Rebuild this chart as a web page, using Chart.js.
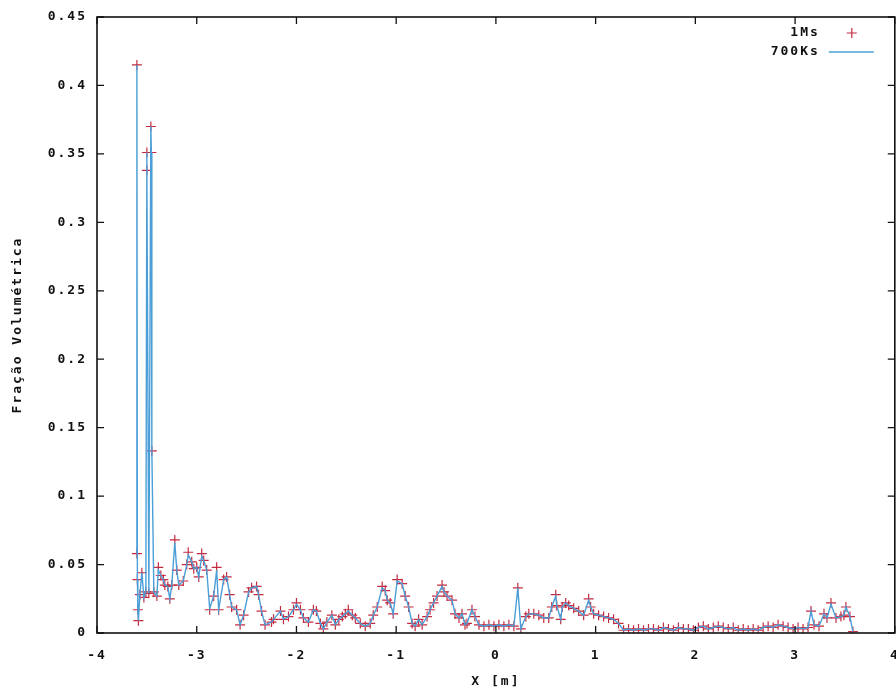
<!DOCTYPE html>
<html>
<head>
<meta charset="utf-8">
<script src="https://cdn.jsdelivr.net/npm/chart.js@4.4.1/dist/chart.umd.min.js"></script>
<style>
html,body{margin:0;padding:0;background:#fff;overflow:hidden;}
#wrap{width:896px;height:693px;overflow:hidden;}
</style>
</head>
<body>
<div id="wrap"><canvas id="c" width="901" height="693"></canvas></div>
<script>
const seriesNames = ['1Ms', '700Ks'];
const xTickLabels = ['-4', '-3', '-2', '-1', '0', '1', '2', '3', '4'];
const yTickLabels = ['0', '0.05', '0.1', '0.15', '0.2', '0.25', '0.3', '0.35', '0.4', '0.45'];

const xPos = [
 -3.60,-3.60,-3.595,-3.59,-3.585,-3.57,-3.55,-3.53,-3.51,-3.50,-3.50,-3.48,-3.46,-3.455,-3.45,-3.43,-3.40,-3.385,-3.36,-3.335,
 -3.32,-3.29,-3.27,-3.25,-3.22,-3.20,-3.18,-3.135,-3.10,-3.085,-3.05,-3.03,-3.00,-2.98,-2.95,-2.93,-2.90,-2.87,-2.83,-2.80,
 -2.78,-2.73,-2.70,-2.67,-2.65,-2.60,-2.565,-2.53,-2.48,-2.45,-2.40,-2.38,-2.35,-2.315,-2.25,-2.23,-2.16,-2.13,-2.08,-2.03,
 -2.00,-1.96,-1.93,-1.88,-1.83,-1.80,-1.76,-1.73,-1.695,-1.645,-1.61,-1.575,-1.54,-1.51,-1.48,-1.44,-1.41,-1.36,-1.31,-1.26,
 -1.23,-1.19,-1.14,-1.11,-1.09,-1.06,-1.03,-0.99,-0.94,-0.91,-0.875,-0.84,-0.81,-0.775,-0.74,-0.69,-0.66,-0.625,-0.59,-0.54,
 -0.52,-0.49,-0.44,-0.41,-0.37,-0.34,-0.31,-0.29,-0.24,-0.21,-0.17,-0.12,-0.07,-0.02,0.03,0.08,0.13,0.18,0.22,0.25,
 0.30,0.33,0.38,0.43,0.48,0.53,0.56,0.60,0.61,0.65,0.665,0.70,0.73,0.78,0.83,0.88,0.93,0.95,0.98,1.03,
 1.08,1.13,1.18,1.23,1.28,1.33,1.38,1.43,1.48,1.53,1.58,1.63,1.68,1.73,1.78,1.83,1.88,1.93,1.98,2.03,
 2.08,2.13,2.18,2.23,2.28,2.33,2.38,2.43,2.48,2.53,2.58,2.63,2.68,2.73,2.78,2.83,2.88,2.93,2.98,3.03,
 3.08,3.13,3.16,3.19,3.24,3.29,3.32,3.36,3.41,3.46,3.49,3.51,3.55,3.58
];

const ms1 = [
 0.058,0.415,0.039,0.017,0.009,0.028,0.044,0.026,0.030,0.351,0.338,0.029,0.370,0.351,0.133,0.030,0.027,0.048,0.042,0.039,
 0.035,0.034,0.025,0.035,0.068,0.046,0.035,0.038,0.050,0.059,0.052,0.047,0.048,0.041,0.058,0.053,0.046,0.017,0.027,0.048,
 0.017,0.039,0.041,0.028,0.019,0.017,0.006,0.013,0.030,0.033,0.034,0.028,0.016,0.006,0.008,0.010,0.016,0.010,0.012,0.017,
 0.022,0.017,0.011,0.008,0.017,0.016,0.007,0.003,0.008,0.013,0.006,0.010,0.012,0.014,0.017,0.013,0.011,0.007,0.005,0.007,
 0.013,0.019,0.034,0.031,0.024,0.022,0.014,0.039,0.036,0.027,0.019,0.007,0.005,0.010,0.006,0.012,0.017,0.022,0.027,0.035,
 0.030,0.027,0.024,0.014,0.011,0.014,0.006,0.007,0.017,0.012,0.006,0.005,0.006,0.005,0.006,0.005,0.006,0.005,0.033,0.003,
 0.012,0.014,0.014,0.013,0.011,0.011,0.019,0.028,0.020,0.010,0.019,0.022,0.020,0.018,0.016,0.013,0.025,0.019,0.014,0.013,
 0.012,0.011,0.010,0.007,0.002,0.003,0.002,0.003,0.002,0.003,0.003,0.002,0.004,0.003,0.002,0.004,0.003,0.003,0.002,0.004,
 0.005,0.003,0.004,0.005,0.004,0.003,0.004,0.002,0.003,0.002,0.003,0.002,0.004,0.005,0.004,0.006,0.005,0.004,0.003,0.004,
 0.003,0.004,0.016,0.006,0.005,0.014,0.011,0.022,0.011,0.012,0.013,0.019,0.012,0.001
];

const ks700 = [
 0.058,0.415,0.039,0.017,0.009,0.028,0.044,0.026,0.030,0.351,0.338,0.029,0.370,0.351,0.133,0.030,0.027,0.046,0.042,0.039,
 0.035,0.034,0.025,0.035,0.066,0.046,0.035,0.038,0.050,0.057,0.052,0.047,0.048,0.041,0.056,0.053,0.046,0.018,0.027,0.046,
 0.017,0.039,0.041,0.028,0.019,0.017,0.006,0.013,0.030,0.033,0.034,0.028,0.016,0.006,0.008,0.010,0.016,0.010,0.012,0.017,
 0.021,0.017,0.011,0.008,0.017,0.016,0.007,0.003,0.008,0.013,0.006,0.010,0.012,0.014,0.016,0.013,0.011,0.007,0.005,0.007,
 0.013,0.019,0.033,0.031,0.024,0.022,0.014,0.038,0.036,0.027,0.019,0.007,0.005,0.010,0.006,0.012,0.017,0.022,0.027,0.034,
 0.030,0.027,0.024,0.014,0.011,0.014,0.006,0.007,0.017,0.012,0.006,0.005,0.006,0.005,0.006,0.005,0.006,0.005,0.033,0.003,
 0.012,0.014,0.014,0.013,0.011,0.011,0.019,0.027,0.020,0.010,0.019,0.022,0.020,0.018,0.016,0.013,0.024,0.019,0.014,0.013,
 0.012,0.011,0.010,0.007,0.002,0.003,0.002,0.003,0.002,0.003,0.003,0.002,0.004,0.003,0.002,0.004,0.003,0.003,0.002,0.004,
 0.005,0.003,0.004,0.005,0.004,0.003,0.004,0.002,0.003,0.002,0.003,0.002,0.004,0.005,0.004,0.006,0.005,0.004,0.003,0.004,
 0.003,0.004,0.016,0.006,0.005,0.014,0.011,0.021,0.011,0.012,0.013,0.019,0.012,0.001
];

const FONT = '"DejaVu Sans Mono", "Liberation Mono", monospace';
const RED = '#c42a40';
const BLUE = '#4a9fd8';
const INK = '#111111';
const LS = '2px';

const spacing = {
  id: 'spacing',
  beforeDraw(chart) { chart.ctx.letterSpacing = LS; }
};

const frame = {
  id: 'frame',
  afterDatasetsDraw(chart) {
    const {ctx, chartArea: a, scales} = chart;
    ctx.save();
    ctx.strokeStyle = INK;
    ctx.lineWidth = 1.6;
    ctx.strokeRect(a.left, a.top, a.right - a.left, a.bottom - a.top);
    const L = 7;
    ctx.lineWidth = 1.3;
    ctx.beginPath();
    scales.x.ticks.forEach(t => {
      const px = scales.x.getPixelForValue(t.value);
      ctx.moveTo(px, a.bottom); ctx.lineTo(px, a.bottom - L);
      ctx.moveTo(px, a.top); ctx.lineTo(px, a.top + L);
    });
    scales.y.ticks.forEach(t => {
      const py = scales.y.getPixelForValue(t.value);
      ctx.moveTo(a.left, py); ctx.lineTo(a.left + L, py);
      ctx.moveTo(a.right, py); ctx.lineTo(a.right - L, py);
    });
    ctx.stroke();
    ctx.restore();
  },
  afterDraw(chart) {
    const {ctx, chartArea: a} = chart;
    const ds = chart.data.datasets;
    ctx.save();
    ctx.letterSpacing = LS;
    ctx.font = 'bold 13px ' + FONT;
    ctx.fillStyle = INK;
    ctx.textAlign = 'right';
    ctx.textBaseline = 'middle';
    const tx = a.right - 77, y1 = a.top + 16, y2 = a.top + 35;
    ctx.fillText(ds[1].label, tx + 2, y1);
    ctx.fillText(ds[0].label, tx + 2, y2);
    ctx.strokeStyle = RED; ctx.lineWidth = 1.2;
    ctx.beginPath();
    const cx = a.right - 43;
    ctx.moveTo(cx - 5, y1); ctx.lineTo(cx + 5, y1);
    ctx.moveTo(cx, y1 - 5); ctx.lineTo(cx, y1 + 5);
    ctx.stroke();
    ctx.strokeStyle = BLUE; ctx.lineWidth = 1.5;
    ctx.beginPath();
    ctx.moveTo(a.right - 66, y2); ctx.lineTo(a.right - 21, y2);
    ctx.stroke();
    ctx.restore();
  }
};

const tickFont = { family: FONT, size: 13, weight: 'bold' };

new Chart(document.getElementById('c'), {
  type: 'scatter',
  data: {
    datasets: [
      {
        label: seriesNames[1],
        data: xPos.map((x, i) => ({x: x, y: ks700[i]})),
        showLine: true,
        borderColor: BLUE,
        borderWidth: 1.4,
        pointRadius: 0,
        tension: 0,
        order: 0
      },
      {
        label: seriesNames[0],
        data: xPos.map((x, i) => ({x: x, y: ms1[i]})),
        showLine: false,
        pointStyle: 'cross',
        pointRadius: 5,
        pointBorderWidth: 1.2,
        borderColor: RED,
        backgroundColor: RED,
        order: 1
      }
    ]
  },
  options: {
    responsive: false,
    animation: false,
    events: [],
    layout: { padding: { top: 17, right: 2, left: 0, bottom: 0 } },
    plugins: { legend: { display: false }, tooltip: { enabled: false } },
    scales: {
      x: {
        type: 'linear', min: -4, max: 4,
        ticks: {
          stepSize: 1, padding: 15, color: INK, font: tickFont,
          maxRotation: 0,
          callback: (v, i) => xTickLabels[i]
        },
        grid: { display: false, drawTicks: false },
        border: { display: false },
        title: { display: true, text: 'X [m]', color: INK, padding: { top: 0, bottom: 4 }, font: tickFont },
        afterFit: s => { s.height = 60; s.paddingLeft = 0; s.paddingRight = 0; }
      },
      y: {
        type: 'linear', min: 0, max: 0.45,
        ticks: {
          stepSize: 0.05, padding: 10, color: INK, font: tickFont,
          callback: (v, i) => yTickLabels[i]
        },
        grid: { display: false, drawTicks: false },
        border: { display: false },
        title: { display: true, text: 'Fração Volumétrica', color: INK, padding: { top: 10, bottom: 0 }, font: tickFont },
        afterFit: s => { s.width = 97; s.paddingTop = 0; s.paddingBottom = 0; }
      }
    }
  },
  plugins: [spacing, frame]
});
</script>
</body>
</html>
